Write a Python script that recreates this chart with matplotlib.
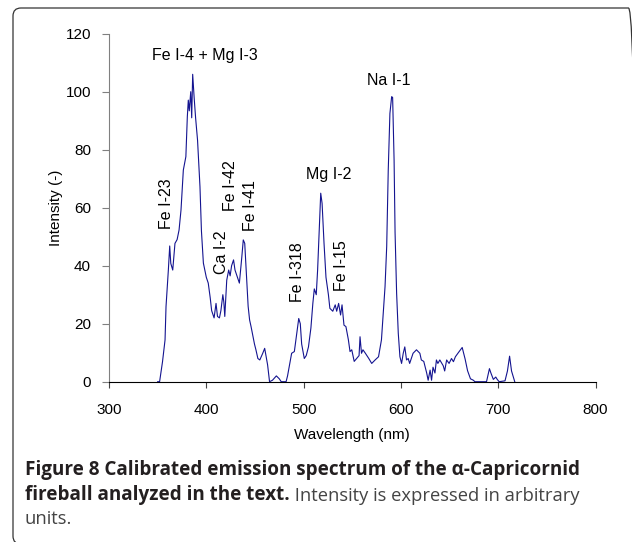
import matplotlib
matplotlib.use('Agg')
import matplotlib.pyplot as plt
from matplotlib.patches import FancyBboxPatch

# spectrum (wavelength in nm, intensity in arb. units)
wavelength = [350, 352, 355, 357.6, 358.6, 361, 362.4, 363.5, 365.5, 367.8, 370, 372, 374, 376.4, 379,
              380.5, 381.5, 382.5, 384, 385, 386, 387.5, 389, 391, 393.5, 395, 397, 400, 402, 404,
              405.5, 408, 410, 411.5, 413.5, 415, 417, 418, 419, 421, 423, 424.5, 426, 428, 429.5,
              432, 434, 436.5, 438, 439.5, 441.3, 443, 444.5, 446, 448, 449.5, 451, 453, 455, 458,
              460, 461.5, 463, 465, 468, 472, 475, 477, 482, 483.5, 487.7, 490.5, 493, 495, 496.6,
              498, 500.7, 502.7, 505, 507.5, 509.5, 511, 513, 514.4, 516.5, 517.6, 519, 521, 523,
              525.5, 527, 530, 532.5, 534, 536, 538, 539.5, 541.5, 543.5, 546, 547.7, 549.5, 552,
              554.5, 557, 558, 559.5, 561, 563.5, 567, 570, 573.5, 577, 580, 583.7, 585.4, 587,
              588.7, 590.5, 591.5, 593, 594, 595.6, 597.3, 599, 600.7, 602.4, 604, 605.8, 607.5,
              609, 612.5, 616, 619.5, 621, 623.5, 626.5, 628, 630, 631.5, 633, 635, 636.5, 638,
              640, 643.5, 645, 647, 649.5, 652, 654, 656, 659, 663, 666, 668.5, 671.5, 674.5, 676,
              688, 691, 692.5, 695, 697.5, 699, 701, 707, 709.5, 711.7, 713.7, 717]
intensity = [0, 0, 6.9, 14.4, 25.9, 38.5, 46.8, 40.8, 38.5, 47.7, 49, 52.3, 59.2, 73, 77.6,
             91.4, 97.1, 93.4, 100, 91, 106, 98, 91, 83.3, 67.2, 52, 40.9, 36, 34, 29,
             24.5, 22, 27, 22.5, 22, 24.5, 30, 27.5, 22.5, 35, 38.5, 36.5, 40, 42, 38.5,
             36, 34, 43, 48.9, 47.7, 36.5, 26, 21.3, 19, 15.5, 13, 11, 8, 7.5, 9.8,
             11.5, 8.6, 5.8, 0, 0.5, 2, 1, 0, 0, 2, 9.8, 10.4, 16.7, 21.8, 20,
             13, 8, 9, 12, 18.5, 27, 32, 30, 38.5, 55.7, 65, 61.5, 47.7, 36,
             30, 25.3, 24.3, 26.5, 24.3, 27, 23, 26.5, 19.5, 19, 14.5, 10.4, 11, 7,
             8, 9, 15.5, 9.8, 11, 9.8, 8, 6.3, 7.5, 8.6, 14.4, 32.8, 46.6, 73,
             92.5, 98.3, 98, 76.4, 51.5, 30.5, 16.7, 8.6, 6.3, 9.8, 12, 7.5, 8,
             6.3, 9.8, 11, 9.8, 7.5, 7, 3, 0.5, 4, 0.5, 5, 3, 7.5, 6.3,
             7.5, 5.5, 3.7, 7.5, 6.3, 8, 6.9, 8.6, 10, 11.8, 7.8, 3.8, 1, 0.5, 0,
             0, 4.5, 3, 0.8, 1.6, 0.8, 0, 0.3, 3.7, 8.8, 3.7, 0]

# line labels
flat_labels = ['Fe I-4 + Mg I-3', 'Mg I-2', 'Na I-1']
flat_pos = [(398.7, 112.4), (525.4, 71.6), (587, 103.8)]
rot_labels = ['Fe I-23', 'Ca I-2', 'Fe I-42', 'Fe I-41', 'Fe I-318', 'Fe I-15']
rot_pos = [(359.3, 61.3), (415.8, 44.5), (424.7, 67.5), (445.3, 60.9), (493.5, 37.9), (539.1, 40)]

xticks = [300, 400, 500, 600, 700, 800]
yticks = [0, 20, 40, 60, 80, 100, 120]

caption_bold_1 = 'Figure 8 Calibrated emission spectrum of the \u03b1-Capricornid'
caption_bold_2 = 'fireball analyzed in the text.'
caption_reg_2 = ' Intensity is expressed in arbitrary'
caption_reg_3 = 'units.'


def main():
    W, H = 632, 542
    fig = plt.figure(figsize=(W / 100, H / 100), dpi=100)
    plt.rcParams['font.family'] = ['Liberation Sans', 'DejaVu Sans']

    # rounded frame around the figure + caption (right and bottom edges run off the image)
    frame = FancyBboxPatch((0.13, -0.02), 6.235, 5.36, boxstyle='round,pad=0,rounding_size=0.08',
                           transform=fig.dpi_scale_trans, fc='none', ec='#333333', lw=0.9)
    fig.patches.append(frame)

    ax = fig.add_axes([109 / W, 1 - 381.7 / H, (595.5 - 109) / W, (381.7 - 33.7) / H])
    ax.plot(wavelength, intensity, color='#141490', lw=0.8, zorder=2)

    ax.set_xlim(300, 800)
    ax.set_ylim(0, 120)
    ax.set_xticks(xticks)
    ax.set_yticks(yticks)
    ax.spines['top'].set_visible(False)
    ax.spines['right'].set_visible(False)
    ax.spines['left'].set_color('#808080')
    ax.spines['bottom'].set_color('#000000')
    ax.spines['bottom'].set_zorder(3)
    ax.tick_params(axis='y', direction='out', length=5, width=0.8, color='#808080', pad=8, labelsize=11)
    ax.tick_params(axis='x', direction='out', length=4, width=0.8, color='#444444', pad=11, labelsize=11)
    ax.set_xlabel('Wavelength (nm)', fontsize=11, labelpad=8)
    ax.set_ylabel('Intensity (-)', fontsize=11, labelpad=2)

    for lab, (x, y) in zip(flat_labels, flat_pos):
        ax.text(x, y, lab, ha='center', va='center', fontsize=11.5)
    for lab, (x, y) in zip(rot_labels, rot_pos):
        ax.text(x, y, lab, ha='center', va='center', rotation=90, fontsize=11.5)

    # caption
    cap_font = ['Open Sans', 'DejaVu Sans']
    fs = 13.6
    fs_reg = 13.2
    fig.text(25 / W, 1 - 475 / H, caption_bold_1, fontsize=fs, fontweight='bold',
             family=cap_font, color='#231f20', va='baseline')
    t2 = fig.text(25 / W, 1 - 500 / H, caption_bold_2, fontsize=fs, fontweight='bold',
                  family=cap_font, color='#231f20', va='baseline')
    ax.annotate(caption_reg_2, xy=(1, 0), xycoords=t2, va='bottom', ha='left',
                fontsize=fs_reg, family=cap_font, color='#444444')
    fig.text(25 / W, 1 - 524 / H, caption_reg_3, fontsize=fs_reg, family=cap_font,
             color='#444444', va='baseline')

    fig.savefig('out.png', dpi=100)


if __name__ == '__main__':
    main()
